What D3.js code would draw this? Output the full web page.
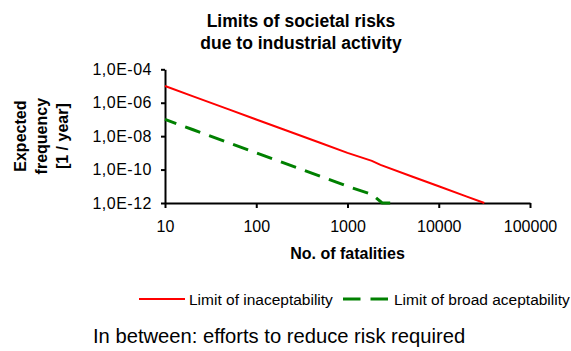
<!DOCTYPE html>
<html>
<head>
<meta charset="utf-8">
<script src="https://cdn.jsdelivr.net/npm/d3@7/dist/d3.min.js"></script>
<style>
  html, body { margin: 0; padding: 0; background: #fff; }
  svg { display: block; font-family: Arial, "Liberation Sans", sans-serif; }
</style>
</head>
<body>
<svg id="chart" width="571" height="351"></svg>
<script>
// ---- data ----
const titleLines = ["Limits of societal risks", "due to industrial activity"];
const yLabelLines = ["Expected", "frequency", "[1 / year]"];
const xLabel = "No. of fatalities";
const footnote = "In between: efforts to reduce risk required";

const xTicks = [10, 100, 1000, 10000, 100000];
const xTickLabels = ["10", "100", "1000", "10000", "100000"];
const yTicks = [1e-4, 1e-6, 1e-8, 1e-10, 1e-12];
const yTickLabels = ["1,0E-04", "1,0E-06", "1,0E-08", "1,0E-10", "1,0E-12"];

const seriesNames = ["Limit of inaceptability", "Limit of broad aceptability"];
const redN    = [10, 20, 50, 100, 200, 500, 1000, 1850, 2300, 5000, 10000, 20000, 31600];
const redF    = [1e-5, 2.5e-6, 4e-7, 1e-7, 2.5e-8, 4e-9, 1e-9, 3.3e-10, 1.9e-10, 4e-11, 1e-11, 2.5e-12, 1e-12];
const greenN  = [10, 20, 50, 100, 200, 500, 1000, 1850, 2400, 3450];
const greenF  = [1e-7, 2.5e-8, 4e-9, 1e-9, 2.5e-10, 4e-11, 1e-11, 3.3e-12, 1e-12, 1e-12];

// ---- layout ----
const svg = d3.select("#chart");
const plot = { left: 165, right: 530, top: 69.3, bottom: 203 };

const x = d3.scaleLog().domain([10, 100000]).range([plot.left, plot.right]);
const y = d3.scaleLog().domain([1e-12, 1e-4]).range([plot.bottom, plot.top]);

// title
svg.append("text")
  .attr("x", 301).attr("y", 27)
  .attr("text-anchor", "middle")
  .attr("font-weight", "bold").attr("font-size", 17.5)
  .selectAll("tspan").data(titleLines).join("tspan")
  .attr("x", 301).attr("dy", (d, i) => i === 0 ? 0 : 21.5)
  .text(d => d);

// axes
const xAxis = d3.axisBottom(x)
  .tickValues(xTicks)
  .tickFormat((d, i) => xTickLabels[i])
  .tickSizeInner(5).tickSizeOuter(0).tickPadding(13);
const gx = svg.append("g").attr("transform", `translate(0,${plot.bottom})`).call(xAxis);

const yAxis = d3.axisLeft(y)
  .tickValues(yTicks)
  .tickFormat((d, i) => yTickLabels[i])
  .tickSizeInner(4).tickSizeOuter(0).tickPadding(9);
const gy = svg.append("g").attr("transform", `translate(${plot.left},0)`).call(yAxis);

[gx, gy].forEach(g => {
  g.select(".domain").attr("stroke", "#000").attr("stroke-width", 2);
  g.selectAll(".tick line").attr("stroke", "#000").attr("stroke-width", 2);
  g.selectAll(".tick text").attr("fill", "#000")
    .attr("font-family", "Arial, 'Liberation Sans', sans-serif")
    .attr("font-size", 16);
});
gy.selectAll(".tick text").attr("letter-spacing", 0.5);

// axis titles
svg.append("text")
  .attr("x", (plot.left + plot.right) / 2).attr("y", 259)
  .attr("text-anchor", "middle")
  .attr("font-weight", "bold").attr("font-size", 16)
  .text(xLabel);

const yl = svg.append("text")
  .attr("transform", `translate(26,${(plot.top + plot.bottom) / 2}) rotate(-90)`)
  .attr("text-anchor", "middle")
  .attr("font-weight", "bold").attr("font-size", 16);
yl.selectAll("tspan").data(yLabelLines).join("tspan")
  .attr("x", 0).attr("dy", (d, i) => i === 0 ? 0 : 21)
  .text(d => d);

// lines
const line = d3.line().x(d => x(d[0])).y(d => y(d[1]));
const redData = redN.map((n, i) => [n, redF[i]]);
const greenData = greenN.map((n, i) => [n, greenF[i]]);

svg.append("path").datum(greenData)
  .attr("d", line)
  .attr("fill", "none").attr("stroke", "#008000")
  .attr("stroke-width", 3).attr("stroke-dasharray", "16,9.5")
  .attr("stroke-dashoffset", 4);

svg.append("path").datum(redData)
  .attr("d", line)
  .attr("fill", "none").attr("stroke", "#ff0000")
  .attr("stroke-width", 2);

// legend
const leg = svg.append("g");
leg.append("line").attr("x1", 139).attr("x2", 185).attr("y1", 299).attr("y2", 299)
  .attr("stroke", "#ff0000").attr("stroke-width", 2);
leg.append("text").attr("x", 189).attr("y", 304.5)
  .attr("font-size", 15.5).text(seriesNames[0]);
leg.append("line").attr("x1", 343).attr("x2", 388).attr("y1", 299).attr("y2", 299)
  .attr("stroke", "#008000").attr("stroke-width", 3).attr("stroke-dasharray", "17.5,10");
leg.append("text").attr("x", 394).attr("y", 304.5)
  .attr("font-size", 15.5).text(seriesNames[1]);

// footnote
svg.append("text").attr("x", 93).attr("y", 343)
  .attr("font-size", 20.2).text(footnote);
</script>
</body>
</html>
